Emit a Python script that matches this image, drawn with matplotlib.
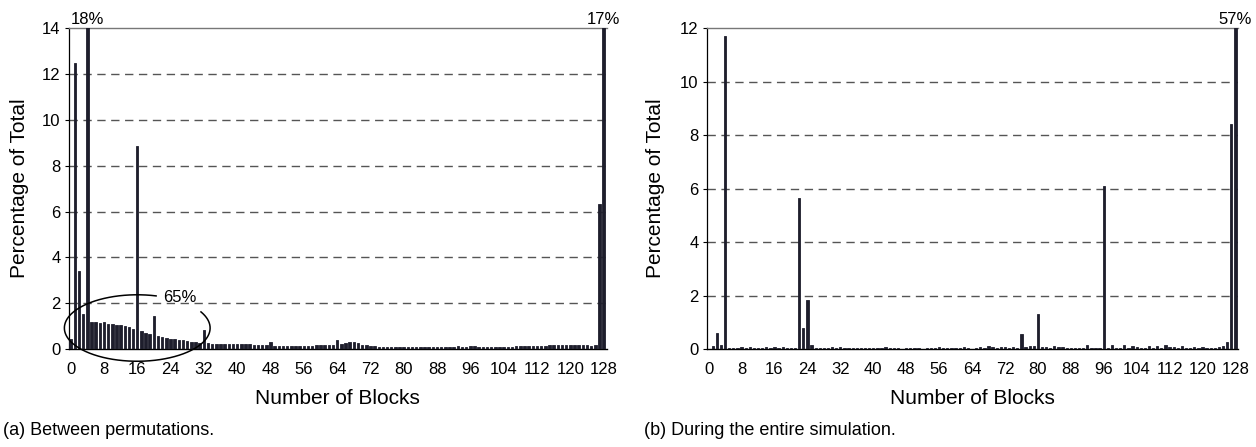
import numpy as np
import matplotlib
matplotlib.use("Agg")
import matplotlib.pyplot as plt
from matplotlib import font_manager

blocks = list(range(129))
xticks = list(range(0, 129, 8))

between_perm = [
    0.45, 12.5, 3.4, 1.55, 18.0, 1.2, 1.18, 1.12, 1.2, 1.1, 1.1, 1.05, 1.05, 1.0, 0.95, 0.88,
    8.85, 0.78, 0.72, 0.65, 1.45, 0.58, 0.52, 0.48, 0.44, 0.42, 0.40, 0.38, 0.36, 0.33, 0.30, 0.28,
    0.85, 0.25, 0.24, 0.23, 0.23, 0.22, 0.22, 0.22, 0.23, 0.22, 0.22, 0.23, 0.20, 0.19, 0.18, 0.20,
    0.30, 0.14, 0.13, 0.13, 0.13, 0.13, 0.13, 0.14, 0.14, 0.15, 0.15, 0.16, 0.16, 0.17, 0.18, 0.20,
    0.38, 0.24, 0.25, 0.32, 0.33, 0.28, 0.20, 0.17, 0.14, 0.12, 0.11, 0.10, 0.10, 0.10, 0.10, 0.11,
    0.10, 0.10, 0.10, 0.10, 0.10, 0.10, 0.10, 0.10, 0.11, 0.10, 0.11, 0.10, 0.11, 0.12, 0.11, 0.11,
    0.15, 0.12, 0.11, 0.10, 0.10, 0.10, 0.09, 0.10, 0.10, 0.11, 0.11, 0.12, 0.12, 0.12, 0.13, 0.13,
    0.14, 0.14, 0.15, 0.16, 0.16, 0.17, 0.18, 0.19, 0.19, 0.18, 0.18, 0.17, 0.17, 0.15, 0.20, 6.35,
    17.0,
]

entire_sim = [
    0.00, 0.12, 0.62, 0.14, 11.7, 0.06, 0.06, 0.06, 0.09, 0.06, 0.09, 0.05, 0.06, 0.06, 0.07, 0.06,
    0.07, 0.06, 0.07, 0.06, 0.05, 0.05, 5.65, 0.80, 1.85, 0.14, 0.05, 0.04, 0.05, 0.05, 0.07, 0.06,
    0.08, 0.05, 0.04, 0.05, 0.06, 0.05, 0.05, 0.06, 0.05, 0.06, 0.06, 0.07, 0.06, 0.06, 0.05, 0.00,
    0.05, 0.05, 0.06, 0.04, 0.00, 0.05, 0.06, 0.05, 0.07, 0.06, 0.05, 0.06, 0.05, 0.06, 0.07, 0.05,
    0.00, 0.05, 0.08, 0.06, 0.12, 0.07, 0.06, 0.09, 0.08, 0.05, 0.08, 0.06, 0.55, 0.07, 0.12, 0.10,
    1.30, 0.08, 0.08, 0.05, 0.12, 0.07, 0.08, 0.06, 0.05, 0.05, 0.06, 0.06, 0.14, 0.05, 0.06, 0.06,
    6.10, 0.06, 0.17, 0.06, 0.06, 0.14, 0.06, 0.12, 0.08, 0.06, 0.06, 0.10, 0.06, 0.12, 0.06, 0.14,
    0.07, 0.07, 0.06, 0.10, 0.05, 0.05, 0.09, 0.05, 0.08, 0.06, 0.06, 0.05, 0.08, 0.12, 0.28, 8.40,
    57.0,
]

ylim_a = 14
ylim_b = 12
labels_a = {4: "18%", 128: "17%"}
labels_b = {128: "57%"}

avail = {f.name for f in font_manager.fontManager.ttflist}
main_font = "Liberation Sans" if "Liberation Sans" in avail else "DejaVu Sans"
cap_font = "Liberation Sans Narrow" if "Liberation Sans Narrow" in avail else main_font
plt.rcParams["font.family"] = [main_font, "DejaVu Sans"]

fig = plt.figure(figsize=(12.56, 4.47), dpi=100)
ax_a = fig.add_axes([0.0549, 0.219, 0.428, 0.718])
ax_b = fig.add_axes([0.5629, 0.219, 0.423, 0.718])

bar_color = "#1e1e2c"

def style(ax, values, top, width, labels, ylabelpad):
    ax.bar(blocks, values, width=width, color=bar_color, edgecolor=bar_color,
           linewidth=0.6, zorder=3)
    ax.set_xlim(-0.4, 128.7)
    ax.set_ylim(0, top)
    ax.set_yticks(list(range(0, top + 1, 2)))
    ax.set_xticks(xticks)
    ax.tick_params(axis="x", length=0, labelsize=12, pad=9)
    ax.tick_params(axis="y", length=3, width=0.8, labelsize=12, pad=3)
    for yv in range(2, top, 2):
        ax.axhline(yv, color="#555555", lw=1.0, ls=(0, (6, 4)), zorder=1)
    ax.spines["right"].set_visible(False)
    ax.spines["top"].set_color("#777777")
    ax.spines["top"].set_linewidth(1.0)
    ax.spines["left"].set_linewidth(0.9)
    ax.spines["bottom"].set_linewidth(1.0)
    ax.set_ylabel("Percentage of Total", fontsize=15, labelpad=ylabelpad)
    ax.set_xlabel("Number of Blocks", fontsize=15, labelpad=9)
    for k, txt in labels.items():
        ax.text(k, top * 1.004, txt, ha="center", va="bottom", fontsize=12)

style(ax_a, between_perm, ylim_a, 0.6, labels_a, 9)
style(ax_b, entire_sim, ylim_b, 0.55, labels_b, 11)

# ellipse annotation (65%) on panel (a), with a gap for the label
cx, cy, w, h = 16.0, 0.92, 35.0, 2.9
t = np.radians(np.linspace(75, 389, 300))
ax_a.plot(cx + w / 2 * np.cos(t), cy + h / 2 * np.sin(t), color="black",
          lw=1.1, clip_on=False, zorder=4)
ax_a.text(26.3, 2.27, "65%", ha="center", va="center", fontsize=12, zorder=5)

fig.text(0.002, 0.038, "(a) Between permutations.", fontsize=13,
         family=[cap_font, "DejaVu Sans"], ha="left", va="center")
fig.text(0.513, 0.038, "(b) During the entire simulation.", fontsize=13,
         family=[cap_font, "DejaVu Sans"], ha="left", va="center")

fig.savefig("out.png", dpi=100)
